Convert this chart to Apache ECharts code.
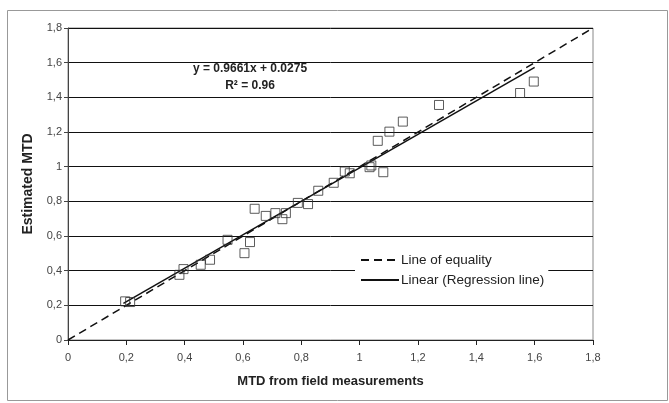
<!DOCTYPE html>
<html><head><meta charset="utf-8">
<script src="https://cdn.jsdelivr.net/npm/echarts@6/dist/echarts.min.js"></script>
<style>html,body{margin:0;padding:0;background:#fff}#c{width:669px;height:403px}</style>
</head><body><div id="c"></div>
<script>
const xTicks = ['0','0,2','0,4','0,6','0,8','1','1,2','1,4','1,6','1,8'];
const measuredX = [0.196,0.213,0.382,0.396,0.455,0.487,0.547,0.605,0.624,0.640,0.678,0.711,0.735,0.747,0.788,0.823,0.858,0.911,0.949,0.966,1.034,1.040,1.081,1.062,1.102,1.148,1.272,1.550,1.597];
const estimatedY = [0.223,0.219,0.376,0.409,0.434,0.463,0.578,0.501,0.565,0.757,0.716,0.732,0.697,0.732,0.791,0.784,0.861,0.907,0.972,0.962,0.997,1.007,0.968,1.149,1.202,1.260,1.356,1.425,1.491];
const equalityLine = [[0,0],[1.8,1.8]];
const regressionLine = [[0.19,0.211],[1.6,1.573]];
const equationText = 'y = 0.9661x + 0.0275';
const r2Text = 'R\u00B2 = 0.96';

const points = measuredX.map((x,i)=>[x, estimatedY[i]]);
const fmt = v => { const i = Math.round(v*5); return xTicks[i] !== undefined ? xTicks[i] : String(v).replace('.',','); };
const font = '"Liberation Sans", Arial, sans-serif';

const chart = echarts.init(document.getElementById('c'));
chart.setOption({
  animation:false,
  backgroundColor:'#fff',
  grid:{left:68,right:76,top:28,bottom:63,show:true,borderColor:'#888',borderWidth:1,backgroundColor:'transparent'},
  xAxis:{type:'value',min:0,max:1.8,interval:0.2,
    name:'MTD from field measurements',nameLocation:'middle',nameGap:35,
    nameTextStyle:{fontFamily:font,fontWeight:'bold',fontSize:13,color:'#222'},
    axisLine:{lineStyle:{color:'#222',width:1}},
    axisTick:{show:true,length:5,lineStyle:{color:'#222'}},
    axisLabel:{formatter:fmt,fontFamily:font,fontSize:11,color:'#444',margin:12},
    splitLine:{show:false}},
  yAxis:{type:'value',min:0,max:1.8,interval:0.2,
    name:'Estimated MTD',nameLocation:'middle',nameGap:33,
    nameTextStyle:{fontFamily:font,fontWeight:'bold',fontSize:14,color:'#222'},
    axisLine:{show:true,lineStyle:{color:'#444',width:1}},
    axisTick:{show:true,length:4,lineStyle:{color:'#444'}},
    axisLabel:{formatter:fmt,fontFamily:font,fontSize:11,color:'#444',margin:6},
    splitLine:{show:true,lineStyle:{color:'#111',width:1}}},
  legend:{show:true,orient:'vertical',left:355,top:249,itemWidth:38,itemHeight:2,itemGap:6,
    backgroundColor:'#fff',padding:[4,4,4,5],
    textStyle:{fontFamily:font,fontSize:13.5,color:'#222',padding:[0,0,0,-3]},
    data:['Line of equality','Linear (Regression line)']},
  graphic:[
    {type:'rect',left:5,top:8,shape:{width:660,height:390},style:{fill:'none',stroke:'#999',lineWidth:1},silent:true},
    {type:'text',x:250,y:63,style:{text:equationText,font:'bold 12px '+font,fill:'#222',textAlign:'center'}},
    {type:'text',x:250,y:80,style:{text:r2Text,font:'bold 12px '+font,fill:'#222',textAlign:'center'}}
  ],
  series:[
    {name:'Line of equality',type:'line',data:equalityLine,symbol:'none',z:3,
      lineStyle:{color:'#111',width:1.5,type:[8,5]},itemStyle:{color:'#111'}},
    {name:'Linear (Regression line)',type:'line',data:regressionLine,symbol:'none',z:3,
      lineStyle:{color:'#111',width:1.5,type:'solid'},itemStyle:{color:'#111'}},
    {name:'data',type:'scatter',data:points,symbol:'rect',symbolSize:9,z:4,
      itemStyle:{color:'transparent',borderColor:'#333',borderWidth:1}}
  ]
});
</script></body></html>
